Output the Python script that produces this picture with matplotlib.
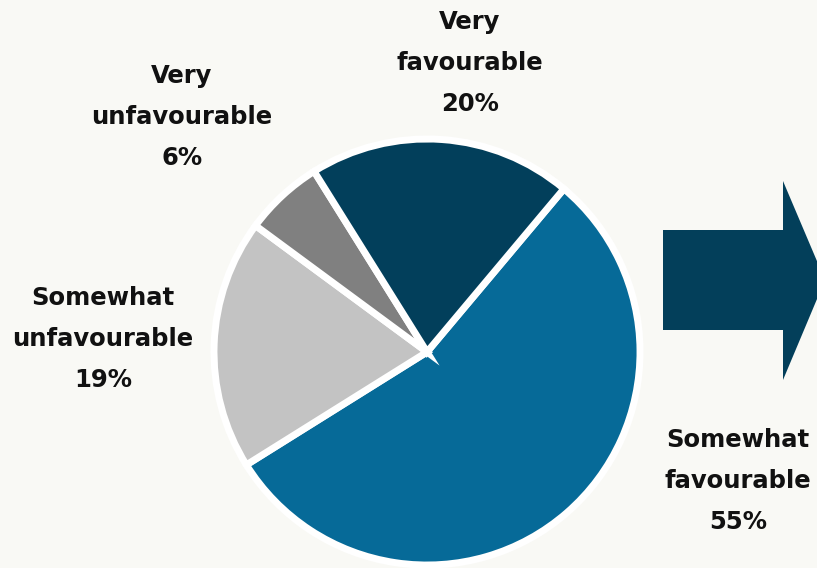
import matplotlib.pyplot as plt
from matplotlib.patches import Polygon

plt.rcParams['font.family'] = ['DejaVu Sans']

labels = ['Somewhat\nfavourable', 'Somewhat\nunfavourable', 'Very\nunfavourable', 'Very\nfavourable']
values = [55, 19, 6, 20]
colors = ['#066a98', '#c3c3c3', '#808080', '#023f5b']
explode = [0.04, 0, 0, 0]
# label centre positions in pixel coords (x, y from top)
label_pos = [(738, 481), (103, 339), (182, 117), (470, 63)]

bg = '#f9f9f5'
W, H = 817, 568

fig = plt.figure(figsize=(W / 100, H / 100), dpi=100, facecolor=bg)
ax = fig.add_axes([0, 0, 1, 1])
ax.set_facecolor(bg)

ax.pie(values, colors=colors, startangle=50, counterclock=False,
       explode=explode, center=(427, H - 352), radius=213, frame=True,
       wedgeprops=dict(edgecolor='white', linewidth=5))

for lab, v, (x, y) in zip(labels, values, label_pos):
    ax.text(x, H - y, f'{lab}\n{v}%', ha='center', va='center',
            fontsize=17.5, fontweight='bold', color='#111111', linespacing=1.87)

# arrow on the right
arrow = [(663, 230), (783, 230), (783, 181), (825, 280), (783, 380),
         (783, 330), (663, 330)]
ax.add_patch(Polygon([(x, H - y) for x, y in arrow], closed=True,
                     facecolor='#033f5a', edgecolor='none'))

ax.set_xlim(0, W)
ax.set_ylim(0, H)
ax.set_aspect('equal')
ax.axis('off')

fig.savefig('out.png', dpi=100, facecolor=bg)
